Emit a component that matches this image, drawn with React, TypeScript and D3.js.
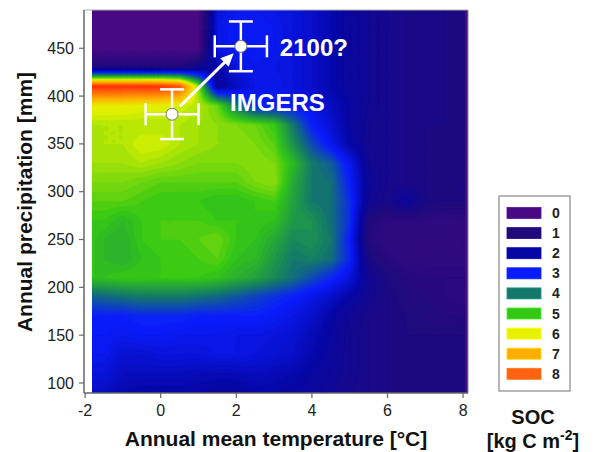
import React, { useMemo } from "react";
import * as d3 from "d3";

// grid of the SOC field
const temperatures = [-2, -1.5, -1, -0.5, 0, 0.5, 1, 1.5, 2, 2.5, 3, 3.5, 4, 4.5, 5, 5.5, 6, 6.5, 7, 7.5, 8];
const precipitation = [490, 470, 450, 430, 410, 390, 370, 350, 330, 310, 290, 270, 250, 230, 210, 190, 170, 150, 130, 110, 90];

const soc = [
  [0, 0, 0, 0, 0, 0, 0, 2.6, 2.8, 2.8, 2.7, 2.6, 2.4, 2.1, 1.8, 1.6, 1.4, 1.3, 1.25, 1.2, 1.15],
  [0, 0, 0, 0, 0, 0, 0, 2.7, 2.9, 2.9, 2.8, 2.6, 2.4, 2.1, 1.8, 1.6, 1.4, 1.3, 1.25, 1.2, 1.15],
  [0, 0, 0, 0, 0, 0, 0, 2.7, 2.9, 2.9, 2.8, 2.6, 2.4, 2.1, 1.8, 1.6, 1.4, 1.3, 1.25, 1.2, 1.15],
  [1.0, 1.0, 1.0, 1.0, 1.0, 1.0, 1.5, 2.0, 2.6, 2.8, 2.7, 2.6, 2.4, 2.1, 1.8, 1.6, 1.4, 1.3, 1.25, 1.2, 1.15],
  [8.6, 8.6, 8.6, 8.6, 8.6, 8.2, 5.5, 1.8, 2.3, 2.7, 2.8, 2.6, 2.4, 2.1, 1.8, 1.6, 1.4, 1.3, 1.25, 1.2, 1.15],
  [6.1, 6.1, 6.1, 6.0, 6.0, 5.9, 5.7, 5.3, 4.0, 3.0, 2.9, 2.9, 2.7, 2.3, 1.9, 1.6, 1.4, 1.3, 1.25, 1.2, 1.15],
  [5.7, 5.7, 5.7, 5.7, 5.7, 5.7, 5.6, 5.5, 5.4, 5.3, 5.0, 4.0, 3.0, 2.5, 1.9, 1.5, 1.4, 1.3, 1.2, 1.2, 1.2],
  [5.6, 5.7, 5.7, 5.9, 5.9, 5.7, 5.6, 5.5, 5.5, 5.4, 5.2, 4.3, 3.5, 2.8, 2.0, 1.5, 1.4, 1.3, 1.2, 1.2, 1.2],
  [5.6, 5.6, 5.6, 5.7, 5.6, 5.5, 5.4, 5.4, 5.4, 5.5, 5.4, 4.8, 4.0, 3.7, 2.8, 1.6, 1.4, 1.3, 1.2, 1.2, 1.2],
  [5.4, 5.4, 5.4, 5.3, 5.2, 5.2, 5.2, 5.2, 5.2, 5.4, 5.5, 4.6, 4.0, 3.9, 3.0, 1.7, 1.4, 1.3, 1.2, 1.1, 1.1],
  [5.2, 5.2, 5.2, 5.1, 5.0, 5.0, 5.0, 4.9, 4.9, 5.0, 5.1, 4.5, 4.0, 3.9, 3.2, 1.6, 1.3, 1.8, 1.2, 1.1, 1.1],
  [5.0, 5.0, 4.8, 5.0, 5.1, 5.1, 5.1, 5.0, 5.0, 5.0, 4.9, 4.4, 4.3, 3.9, 3.2, 1.0, 0.7, 0.7, 0.7, 0.6, 0.6],
  [5.0, 4.8, 4.7, 5.0, 5.1, 5.1, 5.2, 5.3, 5.0, 4.9, 4.6, 4.2, 4.3, 4.0, 3.0, 0.9, 0.6, 0.6, 0.6, 0.6, 0.6],
  [5.0, 4.8, 4.7, 4.9, 5.0, 5.0, 5.1, 5.2, 4.9, 4.8, 4.4, 4.0, 4.1, 3.9, 3.1, 1.2, 0.8, 0.6, 0.6, 0.6, 0.6],
  [4.9, 4.9, 5.0, 5.0, 5.0, 5.0, 5.0, 4.9, 4.7, 4.5, 4.2, 3.9, 3.5, 3.1, 2.6, 1.6, 1.1, 0.9, 0.8, 0.8, 0.8],
  [3.7, 3.8, 3.9, 4.0, 4.0, 4.0, 3.9, 3.8, 3.6, 3.4, 3.2, 3.0, 2.7, 2.4, 2.0, 1.5, 1.2, 1.0, 0.9, 0.8, 0.7],
  [3.0, 3.0, 3.0, 3.1, 3.1, 3.1, 3.0, 3.0, 3.0, 3.0, 2.9, 2.7, 2.4, 2.0, 1.6, 1.3, 1.2, 1.1, 1.0, 0.9, 0.9],
  [2.9, 2.9, 2.8, 2.9, 2.9, 2.8, 2.8, 2.8, 2.7, 2.7, 2.6, 2.5, 2.2, 1.9, 1.5, 1.3, 1.2, 1.1, 1.1, 1.1, 1.1],
  [2.8, 2.8, 2.5, 2.5, 2.6, 2.6, 2.6, 2.7, 2.7, 2.6, 2.5, 2.4, 2.1, 1.8, 1.5, 1.3, 1.2, 1.2, 1.2, 1.2, 1.2],
  [2.6, 2.6, 2.3, 2.3, 2.3, 2.3, 2.2, 2.2, 2.2, 2.3, 2.2, 2.1, 1.9, 1.7, 1.5, 1.3, 1.2, 1.2, 1.2, 1.2, 1.2],
  [2.4, 2.3, 2.1, 2.0, 2.0, 2.0, 2.0, 1.9, 1.9, 2.0, 2.0, 1.9, 1.8, 1.6, 1.4, 1.3, 1.2, 1.2, 1.2, 1.2, 1.2],
];

const legendLevels = [0, 1, 2, 3, 4, 5, 6, 7, 8];
const legendColors = ["#480a84", "#200a7c", "#0606a4", "#0a1cff", "#13786a", "#34c814", "#e6f200", "#ffae00", "#ff6210"];
const colorLevels = [0, 1, 2, 3, 4, 5, 6, 7, 8, 9];
const colorStops = [...legendColors, "#ff1200"];

const xTicks = [-2, 0, 2, 4, 6, 8];
const yTicks = [100, 150, 200, 250, 300, 350, 400, 450];

const points = [
  { label: "IMGERS", t: 0.3, p: 381, dt: 0.7, dp: 26, dx: 58, dy: -3 },
  { label: "2100?", t: 2.12, p: 452, dt: 0.69, dp: 26, dx: 39, dy: 10 },
];

const W = 600;
const H = 452;
const font = "'Liberation Sans', Arial, sans-serif";

export default function App() {
  const x = d3.scaleLinear().domain([-2.03, 8.13]).range([84, 468]);
  const y = d3.scaleLinear().domain([89.5, 490]).range([393, 10]);
  const color = d3.scaleLinear<string>().domain(colorLevels).range(colorStops).clamp(true);

  const bands = useMemo(() => {
    const k = 8;
    const nx = (temperatures.length - 1) * k + 1;
    const ny = (precipitation.length - 1) * k + 1;
    const values = new Array(nx * ny);
    for (let j = 0; j < ny; j++) {
      const r = Math.min(Math.floor(j / k), precipitation.length - 2);
      const fy = j / k - r;
      for (let i = 0; i < nx; i++) {
        const c = Math.min(Math.floor(i / k), temperatures.length - 2);
        const fx = i / k - c;
        const v =
          soc[r][c] * (1 - fx) * (1 - fy) +
          soc[r][c + 1] * fx * (1 - fy) +
          soc[r + 1][c] * (1 - fx) * fy +
          soc[r + 1][c + 1] * fx * fy;
        values[j * nx + i] = v;
      }
    }
    const dT = (temperatures[1] - temperatures[0]) / k;
    const dP = (precipitation[1] - precipitation[0]) / k;
    const proj = d3.geoTransform({
      point(px, py) {
        this.stream.point(x(temperatures[0] + (px - 0.5) * dT), y(precipitation[0] + (py - 0.5) * dP));
      },
    });
    const path = d3.geoPath(proj);
    const thresholds = d3.range(0.1, 9, 0.1);
    const gen = d3.contours().size([nx, ny]);
    return thresholds.map((t) => ({ t, d: path(gen.contour(values, t) as any) || "" }));
  }, []);

  const left = x(-1.82);
  const right = x(8.13);
  const top = y(490);
  const bottom = y(89.5);

  const legendX = 499;
  const legendY = 196;

  return (
    <svg width={W} height={H} style={{ position: "absolute", left: 0, top: 0 }} fontFamily={font}>
      <rect width={W} height={H} fill="#fff" />
      <defs>
        <clipPath id="plotClip">
          <rect x={left} y={top} width={right - left} height={bottom - top} />
        </clipPath>
      </defs>
      <g clipPath="url(#plotClip)">
        <rect x={left} y={top} width={right - left} height={bottom - top} fill={color(0)} />
        {bands.map((b) => (
          <path key={b.t} d={b.d} fill={color(b.t + 0.05)} stroke={color(b.t + 0.05)} strokeWidth={0.3} />
        ))}
      </g>

      {/* frame */}
      <line x1={84} x2={468} y1={10} y2={10} stroke="#aaa" strokeWidth={1} />
      <line x1={468} x2={468} y1={10} y2={393} stroke="#888" strokeWidth={1} />
      <line x1={84} x2={84} y1={10} y2={393} stroke="#666" strokeWidth={1.5} />
      <line x1={84} x2={468} y1={393} y2={393} stroke="#666" strokeWidth={1.5} />

      {xTicks.map((t) => (
        <g key={t} transform={`translate(${x(t)},393)`}>
          <line y2={5} stroke="#666" strokeWidth={1.2} />
          <text y={23} textAnchor="middle" fontSize={16} fill="#222">
            {t}
          </text>
        </g>
      ))}
      {yTicks.map((t) => (
        <g key={t} transform={`translate(84,${y(t)})`}>
          <line x2={-5} stroke="#666" strokeWidth={1.2} />
          <text x={-10} dy="0.35em" textAnchor="end" fontSize={16} fill="#222">
            {t}
          </text>
        </g>
      ))}

      <text x={276} y={446} textAnchor="middle" fontSize={21} fontWeight="bold" fill="#111">
        Annual mean temperature [°C]
      </text>
      <text transform="translate(32,202) rotate(-90)" textAnchor="middle" fontSize={21} fontWeight="bold" fill="#111">
        Annual precipitation [mm]
      </text>

      {/* arrow IMGERS -> 2100 */}
      {(() => {
        const x0 = x(points[0].t);
        const y0 = y(points[0].p);
        const x1 = x(points[1].t);
        const y1 = y(points[1].p);
        const len = Math.hypot(x1 - x0, y1 - y0);
        const ux = (x1 - x0) / len;
        const uy = (y1 - y0) / len;
        const sx = x0 + ux * 11;
        const sy = y0 + uy * 11;
        const tx = x0 + ux * (len - 10);
        const ty = y0 + uy * (len - 10);
        const bx = tx - ux * 13;
        const by = ty - uy * 13;
        const head = [
          [tx, ty],
          [bx - uy * 6, by + ux * 6],
          [bx + uy * 6, by - ux * 6],
        ];
        return (
          <g>
            <line x1={sx} y1={sy} x2={bx + ux * 2} y2={by + uy * 2} stroke="#fff" strokeWidth={3} />
            <polygon points={head.map((p) => p.join(",")).join(" ")} fill="#fff" />
          </g>
        );
      })()}

      {points.map((pt) => {
        const cx = x(pt.t);
        const cy = y(pt.p);
        const xl = x(pt.t - pt.dt);
        const xr = x(pt.t + pt.dt);
        const yt = y(pt.p + pt.dp);
        const yb = y(pt.p - pt.dp);
        return (
          <g key={pt.label} stroke="#fff" strokeWidth={2.5}>
            <line x1={xl} x2={xr} y1={cy} y2={cy} />
            <line x1={xl} x2={xl} y1={cy - 11} y2={cy + 11} />
            <line x1={xr} x2={xr} y1={cy - 11} y2={cy + 11} />
            <line x1={cx} x2={cx} y1={yt} y2={yb} />
            <line x1={cx - 12} x2={cx + 12} y1={yt} y2={yt} />
            <line x1={cx - 12} x2={cx + 12} y1={yb} y2={yb} />
            <circle cx={cx} cy={cy} r={6} fill="#fff" stroke="#777" strokeWidth={1} />
            <text x={cx + pt.dx} y={cy + pt.dy} fontSize={24} fontWeight="bold" fill="#fff" stroke="none">
              {pt.label}
            </text>
          </g>
        );
      })}

      {/* legend */}
      <rect x={legendX} y={legendY} width={71} height={195} fill="#fff" stroke="#888" strokeWidth={1.2} />
      {legendLevels.map((lv, i) => (
        <g key={lv} transform={`translate(${legendX + 8},${legendY + 17 + i * 20.1})`}>
          <rect x={0} y={-5.5} width={34} height={11} fill={legendColors[i]} stroke={d3.color(legendColors[i])!.brighter(0.6).toString()} strokeWidth={0.8} />
          <text x={45} dy="0.36em" fontSize={14} fontWeight="bold" fill="#222">
            {lv}
          </text>
        </g>
      ))}
      <text x={533} y={424} textAnchor="middle" fontSize={20} fontWeight="bold" fill="#111">
        SOC
      </text>
      <text x={533} y={448} textAnchor="middle" fontSize={20} fontWeight="bold" fill="#111">
        [kg C m<tspan dy={-8} fontSize={14}>-2</tspan>
        <tspan dy={8}>]</tspan>
      </text>
    </svg>
  );
}
